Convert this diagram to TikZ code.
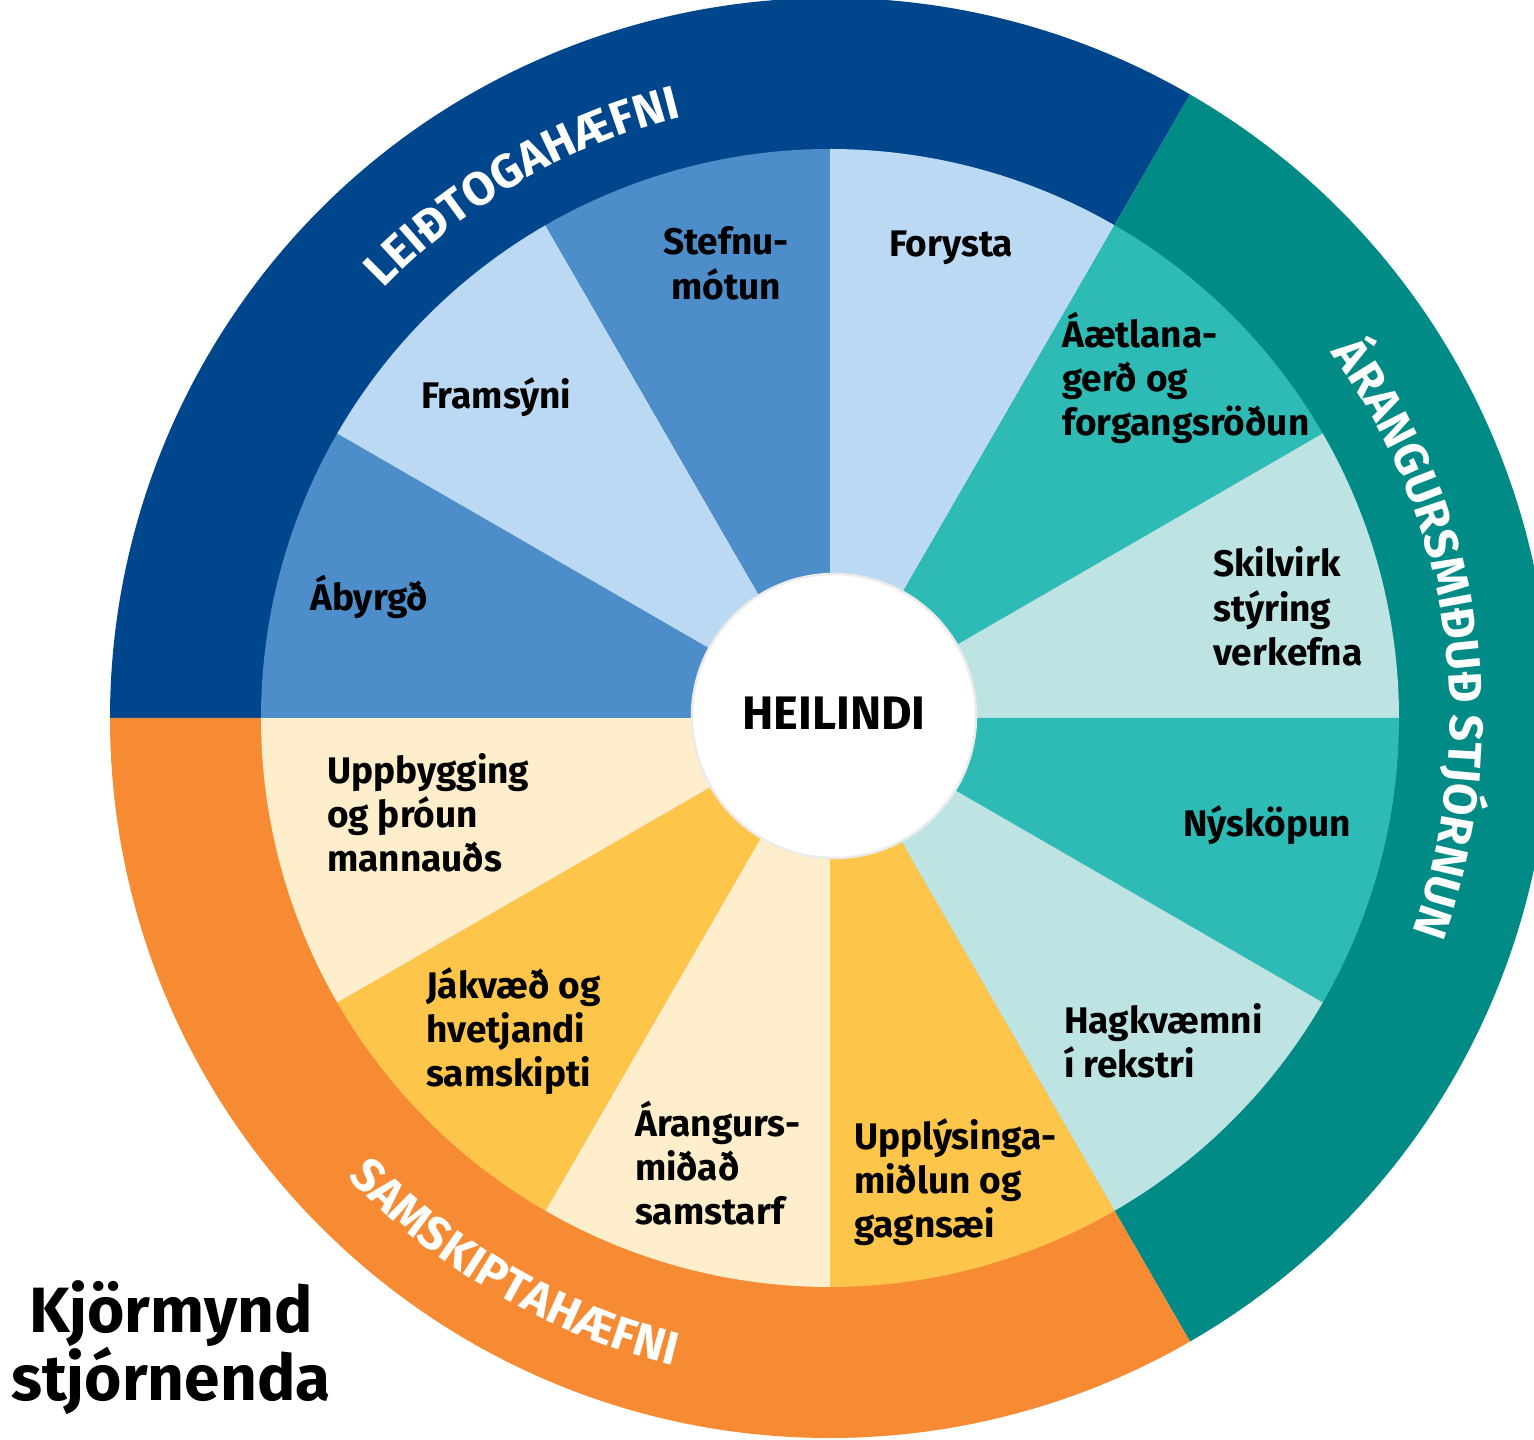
\documentclass[tikz,border=0pt]{standalone}
\usepackage{fontspec}
\setmainfont{Fira Sans}
\usetikzlibrary{decorations.text}
\definecolor{ringblue}{HTML}{00468C}
\definecolor{ringteal}{HTML}{008B87}
\definecolor{ringorange}{HTML}{F68B33}
\definecolor{wblue}{HTML}{4C8DCA}
\definecolor{wlightblue}{HTML}{BBD9F2}
\definecolor{wteal}{HTML}{2EBBB6}
\definecolor{wlightteal}{HTML}{BDE3E3}
\definecolor{wyellow}{HTML}{FEC54B}
\definecolor{wlightyellow}{HTML}{FFEECC}
\definecolor{hubborder}{HTML}{EBEBEB}
\newcommand\lbllines[2]{\begin{tabular}[t]{@{}#1@{}}#2\end{tabular}}
\newcommand\ringfont{\fontsize{47}{47}\selectfont\bfseries\color{white}}
\tikzset{
  lbl/.style={inner sep=0pt, text=black, font=\fontsize{37}{44}\selectfont\bfseries, anchor=base west},
  ringtext/.style={decorate, decoration={text along path, text align=center, text={|\ringfont|#1}}}
}
\begin{document}
\begin{tikzpicture}[x=1pt,y=1pt]
\useasboundingbox (-830pt,-722pt) rectangle (704pt,718pt);
% outer ring sectors
\fill[ringblue]   (0,0) -- (60:720pt) arc[start angle=60, end angle=180, radius=720pt] -- cycle;
\fill[ringteal]   (0,0) -- (-60:720pt) arc[start angle=-60, end angle=60, radius=720pt] -- cycle;
\fill[ringorange] (0,0) -- (180:720pt) arc[start angle=180, end angle=300, radius=720pt] -- cycle;
% wedges
\foreach \a/\c in {60/wlightblue, 30/wteal, 0/wlightteal, -30/wteal, -60/wlightteal,
                   -90/wyellow, -120/wlightyellow, -150/wyellow, -180/wlightyellow,
                   150/wblue, 120/wlightblue, 90/wblue}{
  \fill[\c] (0,0) -- (\a:569pt) arc[start angle=\a, end angle=\a+30, radius=569pt] -- cycle;
}
% hub
\node[circle, fill=white, draw=hubborder, line width=2.5pt, minimum size=284pt, inner sep=0pt] (hub) at (4pt,2pt) {};
\node[inner sep=0pt, font=\fontsize{47}{47}\selectfont\bfseries] (heilindi) at (4pt,5pt) {HEILINDI};
% ring texts
\path[ringtext={LEIÐTOGAHÆFNI}] (170:619pt) arc[start angle=170, end angle=70, radius=619pt];
\path[ringtext={ÁRANGURSMIÐUÐ STJÓRNUN}] (58:620pt) arc[start angle=58, end angle=-42, radius=620pt];
\path[ringtext={SAMSKIPTAHÆFNI}] (-170:666pt) arc[start angle=-170, end angle=-70, radius=666pt];
% wedge labels
\node[lbl] (forysta) at (59pt,461pt) {\lbllines{l}{Forysta}};
\node[lbl, anchor=base] (stefnumotun) at (-104pt,463pt) {\lbllines{c}{Stefnu-\\mótun}};
\node[lbl] (framsyni) at (-409pt,309pt) {\lbllines{l}{Framsýni}};
\node[lbl] (abyrgd) at (-520pt,107pt) {\lbllines{l}{Ábyrgð}};
\node[lbl] (aaetlanagerd) at (232pt,370pt) {\lbllines{l}{Áætlana-\\gerð og\\forgangsröðun}};
\node[lbl] (skilvirk) at (383pt,141pt) {\lbllines{l}{Skilvirk\\stýring\\verkefna}};
\node[lbl] (nyskopun) at (353pt,-118pt) {\lbllines{l}{Nýsköpun}};
\node[lbl] (hagkvaemni) at (234pt,-315pt) {\lbllines{l}{Hagkvæmni\\í rekstri}};
\node[lbl] (upplysinga) at (24pt,-431pt) {\lbllines{l}{Upplýsinga-\\miðlun og\\gagnsæi}};
\node[lbl] (arangurs) at (-195pt,-418pt) {\lbllines{l}{Árangurs-\\miðað\\samstarf}};
\node[lbl] (jakvaed) at (-404pt,-280pt) {\lbllines{l}{Jákvæð og\\hvetjandi\\samskipti}};
\node[lbl] (uppbygging) at (-503pt,-65pt) {\lbllines{l}{Uppbygging\\og þróun\\mannauðs}};
% title
\node[inner sep=0pt, anchor=base, font=\fontsize{64}{50}\selectfont\bfseries] (title) at (-659pt,-614pt) {\lbllines{c}{Kjörmynd\\stjórnenda}};
\end{tikzpicture}
\end{document}
